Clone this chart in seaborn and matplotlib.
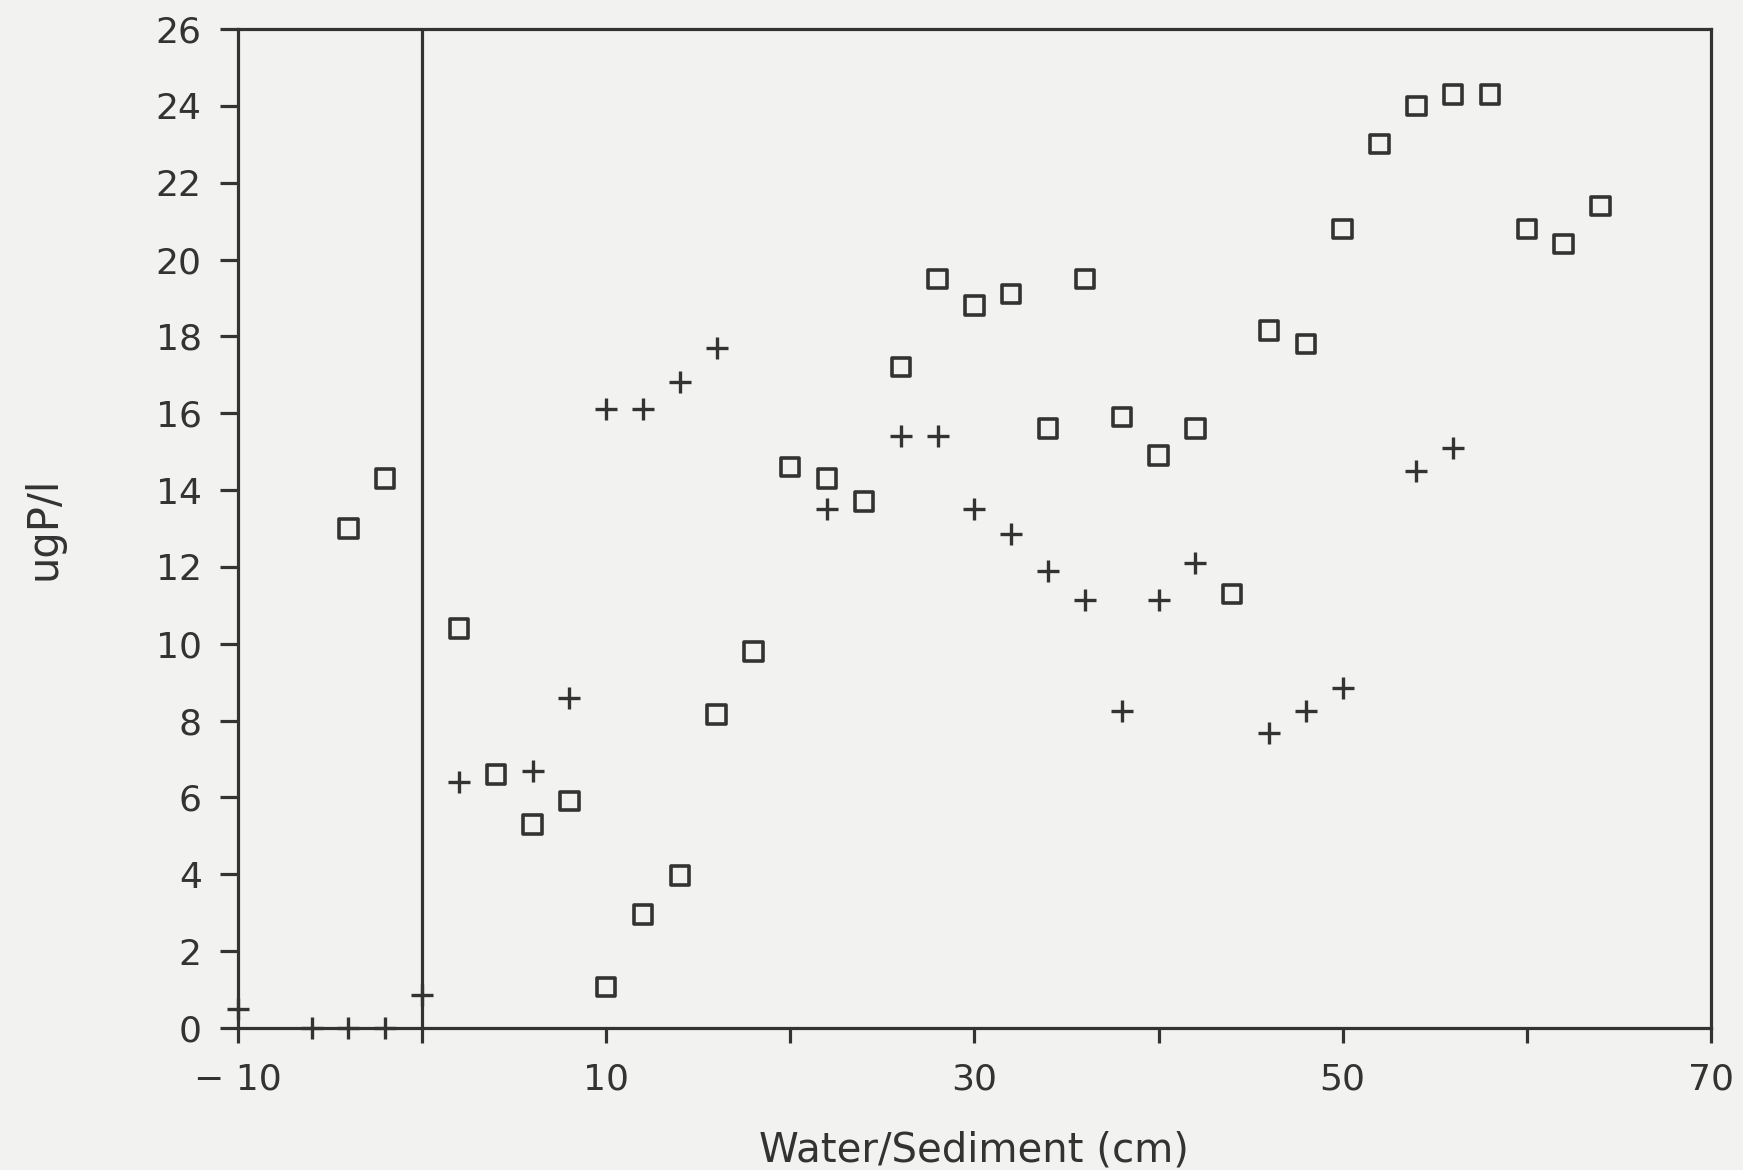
import matplotlib
matplotlib.use("Agg")
import matplotlib.pyplot as plt
import seaborn as sns
import pandas as pd

# Square series
sq_x = [-4, -2, 2, 4, 6, 8, 10, 12, 14, 16, 18, 20, 22, 24, 26, 28, 30, 32, 34,
        36, 38, 40, 42, 44, 46, 48, 50, 52, 54, 56, 58, 60, 62, 64]
sq_y = [13.0, 14.3, 10.4, 6.6, 5.3, 5.9, 1.07, 2.95, 3.97, 8.16, 9.8, 14.6, 14.3,
        13.7, 17.2, 19.5, 18.8, 19.1, 15.6, 19.5, 15.9, 14.9, 15.6, 11.3, 18.15,
        17.8, 20.8, 23.0, 24.0, 24.3, 24.3, 20.8, 20.4, 21.4]
# Plus series
pl_x = [-10, -6, -4, -2, 0, 2, 6, 8, 10, 12, 14, 16, 22, 26, 28, 30, 32, 34, 36,
        38, 40, 42, 46, 48, 50, 54, 56]
pl_y = [0.5, 0, 0, 0, 0.85, 6.4, 6.7, 8.6, 16.1, 16.1, 16.8, 17.7, 13.5, 15.4,
        15.4, 13.5, 12.85, 11.9, 11.15, 8.25, 11.15, 12.1, 7.67, 8.25, 8.86, 14.5, 15.1]

x_ticks = [-10, 0, 10, 20, 30, 40, 50, 60, 70]
x_labels = ["\u2212 10", "", "10", "", "30", "", "50", "", "70"]
y_ticks = list(range(0, 27, 2))

sq = pd.DataFrame({"x": sq_x, "y": sq_y})
pl = pd.DataFrame({"x": pl_x, "y": pl_y})

sns.set_theme(style="white")
plt.rcParams["font.family"] = ["DejaVu Sans"]

ink = "#333333"
bg = "#f2f2f0"

fig = plt.figure(figsize=(17.43, 11.70), dpi=100, facecolor=bg)
ax = fig.add_axes([0.1365, 0.1214, 0.8451, 0.8538])
ax.set_facecolor(bg)

ax.axvline(0, color=ink, lw=2.3, zorder=1)

sns.scatterplot(data=sq, x="x", y="y", ax=ax, marker="s", s=175,
                facecolors="none", edgecolors=ink, linewidth=2.6,
                clip_on=False, zorder=3)
sns.scatterplot(data=pl, x="x", y="y", ax=ax, marker="+", s=235,
                color=ink, linewidth=2.4, clip_on=False, zorder=3)

ax.set_xlim(-10, 70)
ax.set_ylim(0, 26)
ax.set_xticks(x_ticks)
ax.set_xticklabels(x_labels)
ax.set_yticks(y_ticks)
ax.set_yticklabels([str(v) for v in y_ticks])

for sp in ax.spines.values():
    sp.set_color(ink)
    sp.set_linewidth(2.3)

ax.tick_params(axis="y", direction="out", length=13, width=2.3, color=ink,
               labelsize=26, labelcolor=ink, pad=13, left=True)
ax.tick_params(axis="x", direction="out", length=11, width=2.3, color=ink,
               labelsize=26, labelcolor=ink, pad=14, bottom=True)

ax.set_xlabel("Water/Sediment (cm)", fontsize=29, color=ink, labelpad=24)
ax.set_ylabel("ugP/l", fontsize=30, color=ink, labelpad=66)

fig.savefig("out.png", dpi=100, facecolor=bg)
